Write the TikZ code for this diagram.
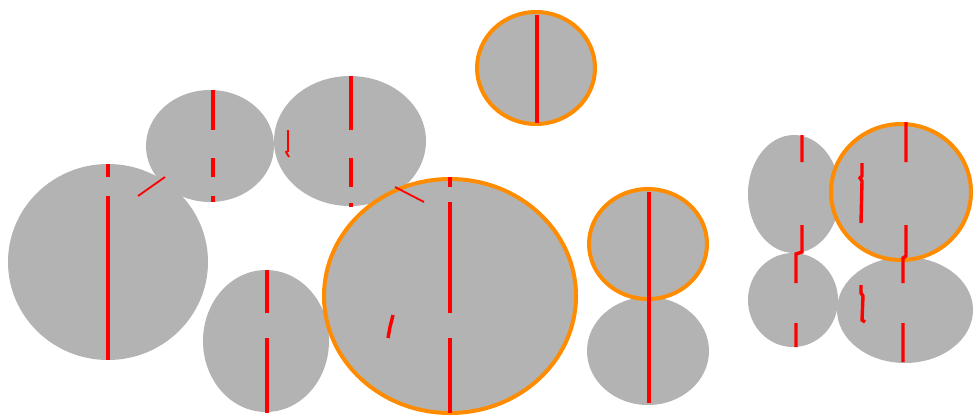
\documentclass[tikz,border=0pt]{standalone}
\definecolor{blobgray}{RGB}{179,179,179}
\definecolor{ringorange}{RGB}{255,140,0}
\definecolor{cutred}{RGB}{255,0,0}
\begin{document}
\begin{tikzpicture}[x=1pt,y=-1pt,
  blob/.style={fill=blobgray},
  ring/.style={draw=ringorange,line width=4pt},
  redline/.style={draw=cutred,line width=3.4pt},
  thinred/.style={draw=cutred,line width=1.8pt}]
\useasboundingbox (0,0) rectangle (973,416);
% gray bodies
\fill[blob] (108,262) ellipse [x radius=100pt, y radius=98pt];
\fill[blob] (210,146) ellipse [x radius=64pt, y radius=56pt];
\fill[blob] (350,141) ellipse [x radius=76pt, y radius=65pt];
\fill[blob] (266,341) ellipse [x radius=63pt, y radius=71pt];
\fill[blob] (450,296) ellipse [x radius=127pt, y radius=118pt];
\fill[blob] (536,68) ellipse [x radius=60pt, y radius=57pt];
\fill[blob] (648,244) ellipse [x radius=60pt, y radius=56pt];
\fill[blob] (648,351) ellipse [x radius=61pt, y radius=54pt];
\fill[blob] (794,194) ellipse [x radius=46pt, y radius=59pt];
\fill[blob] (793,300) ellipse [x radius=45pt, y radius=47pt];
\fill[blob] (905,310) ellipse [x radius=68pt, y radius=53pt];
\fill[blob] (901,192) ellipse [x radius=71pt, y radius=69pt];
% orange rings
\draw[ring] (450,296) ellipse [x radius=126pt, y radius=117pt];
\draw[ring] (536,68) ellipse [x radius=59pt, y radius=56pt];
\draw[ring] (648,244) ellipse [x radius=59pt, y radius=55pt];
\draw[ring] (901,192) ellipse [x radius=70pt, y radius=68pt];
% red cuts
\draw[redline] (108,164) -- (108,177) (108,196) -- (108,360);
\draw[thinred] (138,196) -- (165,177);
\draw[redline] (213,90) -- (213,130) (213,158) -- (213,177) (213,196) -- (213,202);
\draw[redline] (351,76) -- (351,130) (351,158) -- (351,187) (351,203) -- (351,207);
\draw[thinred] (288,130) -- (288,151) -- (286,152) -- (289,157);
\draw[thinred] (395,187) -- (424,202);
\draw[redline] (267,270) -- (267,313) (267,338) -- (267,413);
\draw[redline] (450,177) -- (450,187) (450,202) -- (450,313) (450,338) -- (450,413);
\draw[redline] (393,315) -- (390,327) -- (388,338);
\draw[redline] (537,15) -- (537,123);
\draw[redline] (649,192) -- (649,403);
\draw[redline] (802,135) -- (802,162) (802,225) -- (802,252) -- (796,254) -- (796,283) (796,323) -- (796,347);
\draw[redline] (906,122) -- (906,162) (906,225) -- (906,256) -- (903,258) -- (903,283) (903,323) -- (903,362);
\draw[redline] (862,163) -- (862,176) -- (860,178) -- (862,181) -- (861,223);
\draw[redline] (861,285) -- (861,293) -- (863,296) -- (862,320) -- (865,322);
\end{tikzpicture}
\end{document}
